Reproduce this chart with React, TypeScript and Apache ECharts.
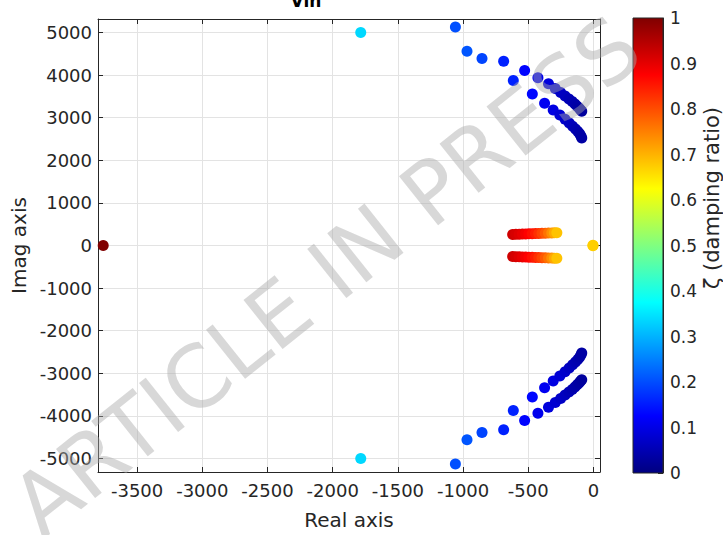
import React, { useEffect, useRef } from "react";
import * as echarts from "echarts";

// Closed-loop poles in the upper half plane [real, imag]; the lower half is their conjugate.
const farPoles: number[][] = [
  [-3760, 0],
  [-1785, 5000],
];
const branchA: number[][] = [
  [-1059, 5125], [-970, 4560], [-855, 4388], [-689, 4325], [-528, 4106],
  [-426, 3934], [-345, 3793], [-293, 3682], [-252, 3590], [-218, 3510],
  [-188, 3440], [-163, 3378], [-142, 3322], [-125, 3270], [-111, 3225],
  [-100, 3185], [-90, 3148],
];
const branchB: number[][] = [
  [-615, 3871], [-469, 3557], [-375, 3337], [-309, 3180], [-258, 3060],
  [-218, 2960], [-186, 2875], [-160, 2800], [-138, 2735], [-120, 2675],
  [-106, 2620], [-96, 2570], [-90, 2522],
];
const lowFreqPoles: number[][] = [
  [-620, 260], [-595, 262], [-570, 265], [-545, 268], [-520, 271],
  [-495, 274], [-470, 277], [-445, 280], [-420, 283], [-395, 286],
  [-370, 289], [-345, 292], [-320, 295], [-300, 297], [-281, 300],
];
const nearOrigin: number[][] = [[-4, 4.4]];

const xTicks = [-3500, -3000, -2500, -2000, -1500, -1000, -500, 0];
const yTicks = [-5000, -4000, -3000, -2000, -1000, 0, 1000, 2000, 3000, 4000, 5000];

// MATLAB "jet" colormap stops
const jet = ["#000080", "#0000ff", "#0080ff", "#00ffff", "#80ff80", "#ffff00", "#ff8000", "#ff0000", "#800000"];

const FONT = "DejaVu Sans";
const INK = "#262626";

function buildPoints(): number[][] {
  const upper = [...farPoles, ...branchA, ...branchB, ...lowFreqPoles, ...nearOrigin];
  const all: number[][] = [];
  for (const [re, im] of upper) {
    const zeta = -re / Math.hypot(re, im);
    all.push([re, im, zeta]);
    if (im !== 0) all.push([re, -im, zeta]);
  }
  return all;
}

export default function App() {
  const ref = useRef<HTMLDivElement>(null);

  useEffect(() => {
    if (!ref.current) return;
    document.body.style.margin = "0";
    const chart = echarts.init(ref.current, undefined, { renderer: "svg" });

    const tickLine = { color: INK, width: 1 };
    const label = { fontFamily: FONT, fontSize: 18, color: INK, formatter: (v: number) => String(v) };

    const gradient = {
      type: "linear",
      x: 0, y: 1, x2: 0, y2: 0,
      colorStops: jet.map((c, i) => ({ offset: i / (jet.length - 1), color: c })),
    };

    chart.setOption({
      animation: false,
      backgroundColor: "#ffffff",
      grid: [
        { left: 98, right: 123, top: 19, bottom: 63, containLabel: false },
        { left: 633, width: 30, top: 18, bottom: 62, containLabel: false },
      ],
      xAxis: [
        {
          type: "value", gridIndex: 0, min: -3800, max: 50, position: "bottom",
          name: "Real axis", nameLocation: "middle", nameGap: 38,
          nameTextStyle: { fontFamily: FONT, fontSize: 20, color: INK },
          axisLine: { show: true, onZero: false, lineStyle: tickLine },
          axisTick: { show: true, inside: true, length: 5, customValues: xTicks, lineStyle: tickLine },
          axisLabel: { ...label, margin: 9, customValues: xTicks },
          splitLine: { show: true, lineStyle: { color: "#e3e3e3", width: 1 } },
        },
        {
          type: "value", gridIndex: 0, min: -3800, max: 50, position: "top",
          axisLine: { show: true, onZero: false, lineStyle: tickLine },
          axisTick: { show: true, inside: true, length: 5, customValues: xTicks, lineStyle: tickLine },
          axisLabel: { show: false, customValues: xTicks },
          splitLine: { show: false },
        },
        {
          type: "category", gridIndex: 1, data: ["ζ"], show: false,
        },
      ],
      yAxis: [
        {
          type: "value", gridIndex: 0, min: -5315, max: 5315, position: "left",
          name: "Imag axis", nameLocation: "middle", nameGap: 64,
          nameTextStyle: { fontFamily: FONT, fontSize: 20, color: INK },
          axisLine: { show: true, onZero: false, lineStyle: tickLine },
          axisTick: { show: true, inside: true, length: 5, customValues: yTicks, lineStyle: tickLine },
          axisLabel: { ...label, margin: 6, customValues: yTicks },
          splitLine: { show: true, lineStyle: { color: "#e3e3e3", width: 1 } },
        },
        {
          type: "value", gridIndex: 0, min: -5315, max: 5315, position: "right",
          axisLine: { show: true, onZero: false, lineStyle: tickLine },
          axisTick: { show: true, inside: true, length: 5, customValues: yTicks, lineStyle: tickLine },
          axisLabel: { show: false, customValues: yTicks },
          splitLine: { show: false },
        },
        {
          type: "value", gridIndex: 1, min: 0, max: 1, interval: 0.1, position: "right",
          axisLine: { show: true, lineStyle: tickLine },
          axisTick: { show: true, inside: true, length: 5, lineStyle: tickLine },
          axisLabel: {
            fontFamily: FONT, fontSize: 17, color: INK, margin: 7,
            formatter: (v: number) => String(Math.round(v * 10) / 10),
          },
          splitLine: { show: false },
        },
      ],
      visualMap: {
        type: "continuous", show: false, dimension: 2, min: 0, max: 1,
        seriesIndex: 0, inRange: { color: jet },
      },
      series: [
        {
          type: "scatter", xAxisIndex: 0, yAxisIndex: 0,
          symbol: "circle", symbolSize: 11,
          data: buildPoints(),
          itemStyle: { opacity: 1 },
        },
        {
          type: "bar", xAxisIndex: 2, yAxisIndex: 2,
          barWidth: "100%", data: [1],
          itemStyle: { color: gradient },
          silent: true,
        },
      ],
      graphic: [
        {
          type: "rect", z: 50, silent: true,
          shape: { x: 633, y: 18, width: 30, height: 455 },
          style: { fill: "none", stroke: INK, lineWidth: 1 },
        },
        {
          type: "text", z: 60, silent: true, x: 712, y: 198, rotation: Math.PI / 2,
          style: {
            text: "ζ (damping ratio)", fontFamily: FONT, fontSize: 21, fill: INK,
            align: "center", verticalAlign: "middle",
          },
        },
        {
          type: "text", z: 60, silent: true, x: 306, y: 9,
          style: {
            text: "Vin", fontFamily: FONT, fontSize: 17, fontWeight: "bold", fill: "#000",
            align: "center", verticalAlign: "bottom",
          },
        },
        {
          type: "text", z: 100, silent: true, x: 326, y: 276, rotation: (38.5 * Math.PI) / 180,
          style: {
            text: "ARTICLE IN PRESS", fontFamily: FONT, fontSize: 86, fill: "#a8a8a8",
            opacity: 0.45, align: "center", verticalAlign: "middle",
          },
        },
      ],
    });

    return () => chart.dispose();
  }, []);

  return <div ref={ref} style={{ width: 723, height: 535 }} />;
}
